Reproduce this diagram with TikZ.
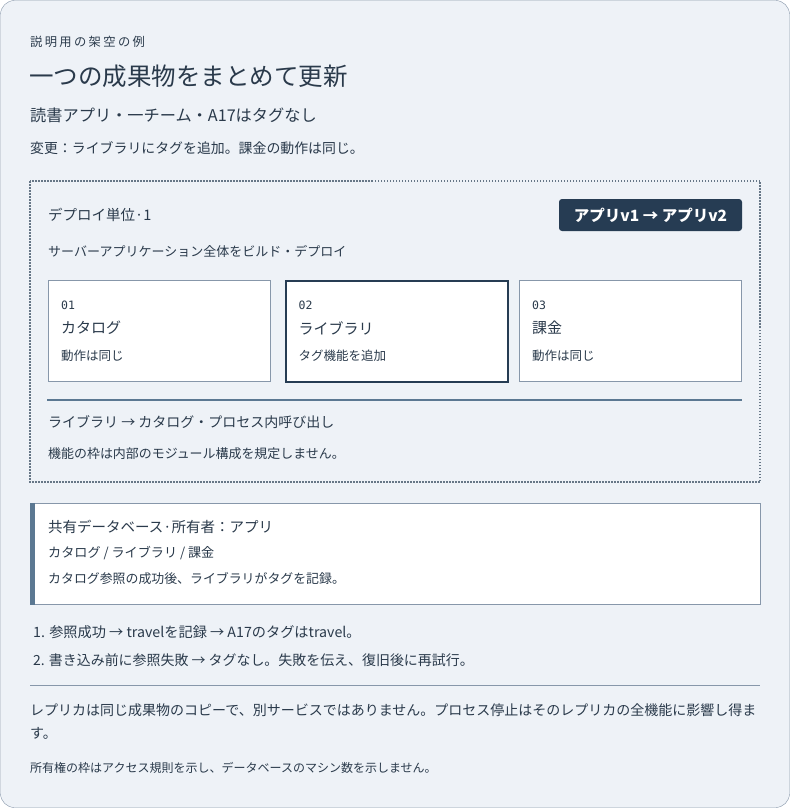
\documentclass[tikz,border=0pt]{standalone}
\usepackage{fontspec}
\setmainfont{Noto Sans CJK JP}
\newfontfamily\codefont{DejaVu Sans Mono}
\definecolor{paper}{HTML}{EEF2F7}
\definecolor{ink}{HTML}{2A3A4B}
\definecolor{edge}{HTML}{8797AA}
\definecolor{navy}{HTML}{263C53}
\definecolor{steel}{HTML}{5B7892}

\tikzset{
 lbl/.style={anchor=west, inner sep=0, text=ink},
 fs/.style={font=\fontsize{#1}{#1}\selectfont},
 card/.style={fill=white, anchor=north west, minimum width=222, minimum height=101, inner sep=0},
}

\begin{document}
\begin{tikzpicture}[x=1pt, y=-1pt]
\useasboundingbox (0,0) rectangle (790,808);
\draw[edge, fill=paper, rounded corners=14] (0.5,0.5) rectangle (789.5,807.5);

% heading
\node[lbl, font=\fontsize{12.3}{12}\selectfont\addfontfeature{LetterSpace=19}] (kicker) at (30,42) {説明用の架空の例};
\node[lbl, fs=24.5] (title) at (29,76) {一つの成果物をまとめて更新};
\node[lbl, fs=16.2] (sub) at (30,115) {読書アプリ・一チーム・A17はタグなし};
\node[lbl, fs=13.9] (change) at (30,148) {変更：ライブラリにタグを追加。課金の動作は同じ。};

% deploy unit
\draw[navy!70, line width=1.5, dash pattern=on 1.5 off 1.5] (30,181) rectangle (760,482);
\node[lbl, fs=14.5] (unit) at (48,215) {デプロイ単位·1};
\node[fill=navy, text=white, rounded corners=3, inner sep=0, minimum width=183, minimum height=32, font=\fontsize{15.5}{15.5}\selectfont\bfseries] (badge) at (650.5,215) {アプリv1 → アプリv2};
\node[lbl, fs=13] (build) at (48,251) {サーバーアプリケーション全体をビルド・デプロイ};

\foreach \x/\n/\t/\d/\c/\w in {47.5/01/カタログ/動作は同じ/edge/1, 285/02/ライブラリ/タグ機能を追加/navy/2, 518.5/03/課金/動作は同じ/edge/1} {
 \node[card, draw=\c, line width=\w] (card\n) at (\x,279.5) {};
 \node[lbl, font=\fontsize{11.5}{11.5}\codefont] (num\n) at (\x+13.5,305) {\n};
 \node[lbl, fs=15] (name\n) at (\x+13.5,328) {\t};
 \node[lbl, fs=12.5] (desc\n) at (\x+13.5,356) {\d};
}

\draw[steel, line width=2] (47,400) -- (742,400);
\node[lbl, fs=14] (call) at (48,422) {ライブラリ → カタログ・プロセス内呼び出し};
\node[lbl, fs=12.95] (scope) at (48,454) {機能の枠は内部のモジュール構成を規定しません。};

% shared database
\draw[edge, fill=white] (30,503.5) rectangle (760,604.5);
\fill[steel] (30,503) rectangle (34.5,605);
\node[lbl, fs=14.5] (db) at (48,527) {共有データベース·所有者：アプリ};
\node[lbl, fs=13.1] (users) at (48,553) {カタログ / ライブラリ / 課金};
\node[lbl, fs=12.9] (order) at (48,579) {カタログ参照の成功後、ライブラリがタグを記録。};

% outcomes
\node[lbl, fs=14.2] (ok) at (33,632) {1. 参照成功 → travelを記録 → A17のタグはtravel。};
\node[lbl, fs=13.95] (fail) at (33,660) {2. 書き込み前に参照失敗 → タグなし。失敗を伝え、復旧後に再試行。};
\draw[edge] (30,685.5) -- (760,685.5);
\node[lbl, align=left, font=\fontsize{14}{23}\selectfont] (replica) at (30,721.5) {レプリカは同じ成果物のコピーで、別サービスではありません。プロセス停止はそのレプリカの全機能に影響し得ま\\す。};
\node[lbl, fs=12] (owner) at (30,768) {所有権の枠はアクセス規則を示し、データベースのマシン数を示しません。};
\end{tikzpicture}
\end{document}
